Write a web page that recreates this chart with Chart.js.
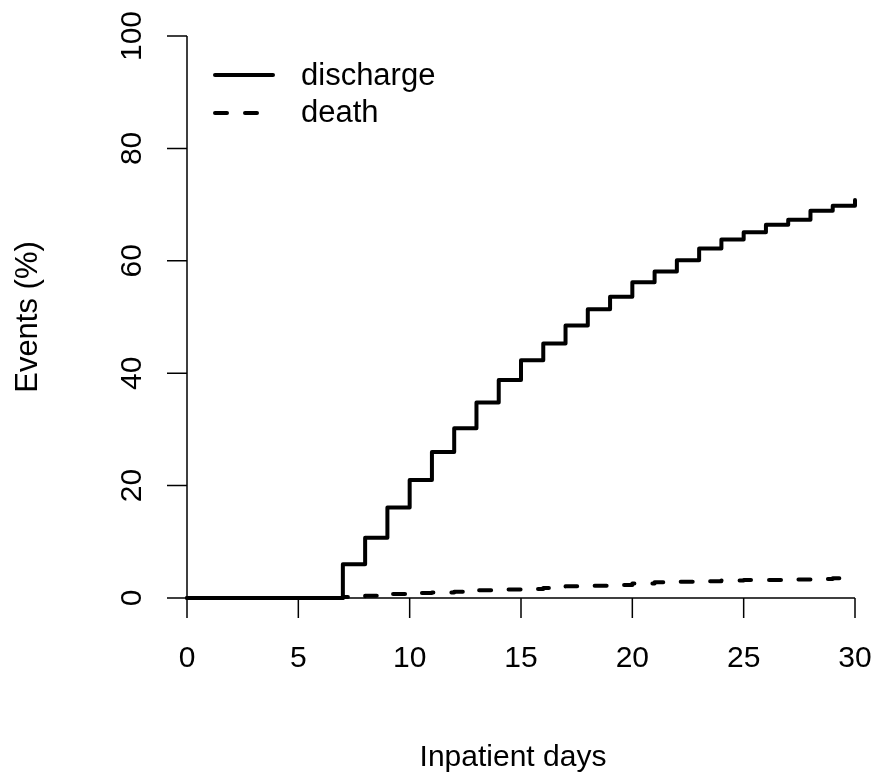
<!DOCTYPE html>
<html>
<head>
<meta charset="utf-8">
<script src="https://cdn.jsdelivr.net/npm/chart.js@4/dist/chart.umd.min.js"></script>
<style>
  html, body { margin: 0; padding: 0; background: #fff; }
  #c { display: block; }
</style>
</head>
<body>
<canvas id="c" width="878" height="777"></canvas>
<script>
const days = [0,1,2,3,4,5,6,7,8,9,10,11,12,13,14,15,16,17,18,19,20,21,22,23,24,25,26,27,28,29,30];
const discharge = [0,0,0,0,0,0,0,6.0,10.7,16.1,21.0,26.0,30.2,34.8,38.8,42.3,45.3,48.5,51.4,53.6,56.2,58.1,60.1,62.2,63.8,65.1,66.4,67.3,68.9,69.8,70.8];
const death = [0,0,0,0,0,0,0,0.2,0.4,0.7,0.9,1.0,1.1,1.4,1.5,1.6,1.8,2.1,2.2,2.3,2.6,2.8,2.9,3.0,3.1,3.2,3.2,3.3,3.4,3.5,3.5];
const xTicks = [0,5,10,15,20,25,30];
const yTicks = [0,20,40,60,80,100];
const seriesNames = ['discharge','death'];
const xTitle = 'Inpatient days';
const yTitle = 'Events (%)';

const FAMILY = '"Liberation Sans", Arial, Helvetica, sans-serif';
const FONT = '30px ' + FAMILY;
const FONT_LEG = '31px ' + FAMILY;
const FONT_YT = '31px ' + FAMILY;
const DASH = [12,18];

const axesPlugin = {
  id: 'rAxes',
  afterDraw(chart) {
    const ctx = chart.ctx;
    const xs = chart.scales.x, ys = chart.scales.y;
    const x0 = xs.getPixelForValue(xTicks[0]);
    const x1 = xs.getPixelForValue(xTicks[xTicks.length-1]);
    const y0 = ys.getPixelForValue(yTicks[0]);
    const y1 = ys.getPixelForValue(yTicks[yTicks.length-1]);
    ctx.save();
    ctx.strokeStyle = '#000';
    ctx.lineWidth = 1.5;
    ctx.lineCap = 'butt';
    ctx.setLineDash([]);
    // x axis
    ctx.beginPath();
    ctx.moveTo(x0, y0); ctx.lineTo(x1, y0);
    xTicks.forEach(v => { const p = xs.getPixelForValue(v); ctx.moveTo(p, y0); ctx.lineTo(p, y0 + 20); });
    ctx.stroke();
    // y axis
    ctx.beginPath();
    ctx.moveTo(x0, y0); ctx.lineTo(x0, y1);
    yTicks.forEach(v => { const p = ys.getPixelForValue(v); ctx.moveTo(x0, p); ctx.lineTo(x0 - 20, p); });
    ctx.stroke();

    ctx.fillStyle = '#000';
    ctx.font = FONT;
    // x tick labels
    ctx.textAlign = 'center';
    ctx.textBaseline = 'alphabetic';
    xTicks.forEach(v => ctx.fillText(String(v), xs.getPixelForValue(v), 667));
    // x title
    ctx.fillText(xTitle, 513, 766);
    // y tick labels (rotated)
    yTicks.forEach(v => {
      ctx.save();
      ctx.translate(141, ys.getPixelForValue(v));
      ctx.rotate(-Math.PI/2);
      ctx.textAlign = 'center';
      ctx.fillText(String(v), 0, 0);
      ctx.restore();
    });
    // y title
    ctx.save();
    ctx.font = FONT_YT;
    ctx.translate(37, (y0 + y1) / 2);
    ctx.rotate(-Math.PI/2);
    ctx.textAlign = 'center';
    ctx.fillText(yTitle, 0, 0);
    ctx.restore();

    // legend
    ctx.lineWidth = 4;
    ctx.lineCap = 'round';
    ctx.beginPath();
    ctx.setLineDash([]);
    ctx.moveTo(215, 75); ctx.lineTo(273, 75);
    ctx.stroke();
    ctx.beginPath();
    ctx.setLineDash(DASH);
    ctx.moveTo(215, 113); ctx.lineTo(273, 113);
    ctx.stroke();
    ctx.setLineDash([]);
    ctx.font = FONT_LEG;
    ctx.textAlign = 'left';
    ctx.fillText(seriesNames[0], 301, 85);
    ctx.fillText(seriesNames[1], 301, 122);
    ctx.restore();
  }
};

new Chart(document.getElementById('c'), {
  type: 'line',
  data: {
    datasets: [
      {
        label: seriesNames[0],
        data: days.map((d, i) => ({x: d, y: discharge[i]})),
        stepped: true,
        borderColor: '#000',
        borderWidth: 4,
        borderJoinStyle: 'round',
        borderCapStyle: 'round',
        pointRadius: 0,
        fill: false,
        clip: false
      },
      {
        label: seriesNames[1],
        data: days.map((d, i) => ({x: d, y: death[i]})),
        stepped: true,
        borderColor: '#000',
        borderWidth: 4,
        borderDash: DASH,
        borderJoinStyle: 'round',
        borderCapStyle: 'round',
        pointRadius: 0,
        fill: false,
        clip: false
      }
    ]
  },
  options: {
    responsive: false,
    animation: false,
    devicePixelRatio: 1,
    layout: { padding: { left: 187, right: 23, top: 36, bottom: 179 } },
    plugins: { legend: { display: false }, tooltip: { enabled: false } },
    scales: {
      x: { type: 'linear', min: 0, max: 30, display: false },
      y: { type: 'linear', min: 0, max: 100, display: false }
    }
  },
  plugins: [axesPlugin]
});
</script>
</body>
</html>
